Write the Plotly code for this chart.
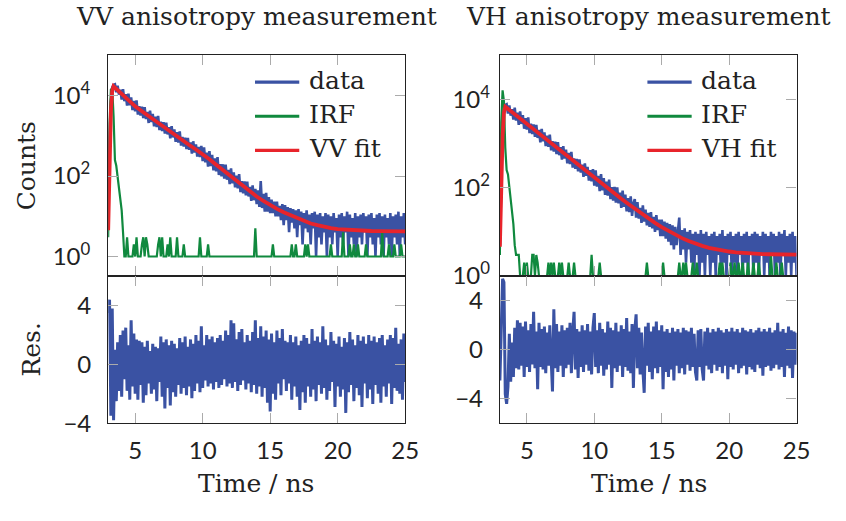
import plotly.graph_objects as go

# ---------------- data ----------------
t_start = 3.0   # first TCSPC channel, ns
t_step = 0.1    # channel width, ns

# VV decay counts, one row per ns (3.0-3.9, 4.0-4.9, ...)
vv_counts = [
    5, 900, 7000, 16000, 18500, 19000, 12000, 17500, 10500, 14000,
    7890, 14480, 7220, 10800, 5600, 11120, 5710, 8980, 4330, 7390,
    4030, 7610, 3360, 5440, 3170, 5270, 2760, 5140, 2600, 3940,
    2080, 4190, 2190, 3500, 1720, 2980, 1650, 3120, 1380, 2240,
    1310, 2170, 1140, 2120, 1080, 1630, 860, 1740, 910, 1450,
    710, 1230, 680, 1290, 570, 930, 540, 900, 470, 880,
    450, 680, 360, 730, 385, 615, 305, 530, 295, 560,
    234, 516, 219, 382, 172, 416, 176, 334, 138, 274,
    130, 295, 106, 198, 98, 196, 86, 191, 81, 142,
    63, 154, 66, 124, 52, 102, 49, 111, 40, 75,
    37, 74, 33, 73, 31, 54, 24, 59, 25, 48,
    20, 44, 17, 75, 16, 36, 13, 38, 13, 30,
    12, 26, 12, 23, 10, 23, 10, 18, 8, 20,
    6, 19, 8, 17, 4, 16, 7, 15, 5, 14,
    3, 15, 6, 13, 2, 12, 5, 14, 4, 11,
    2, 12, 5, 13, 1, 11, 3, 12, 2, 10,
    4, 12, 1, 11, 3, 10, 2, 12, 4, 9,
    1, 11, 3, 12, 2, 10, 4, 13, 1, 11,
    3, 9, 2, 12, 1, 10, 3, 11, 2, 12,
    4, 10, 1, 11, 3, 12, 2, 9, 1, 11,
    3, 12, 2, 10, 1, 11, 3, 9, 2, 12,
    1, 10, 3, 11, 2, 13, 1, 10, 3, 12,
    2,
]

vv_irf = [
    3, 2000, 14000, 15000, 3000, 250, 180, 90, 45, 25,
    14, 4, 1, 1, 3, 1, 1, 1, 1, 2,
    1, 3, 1, 1, 1, 2, 3, 1, 3, 2,
    1, 1, 1, 1, 1, 1, 1, 2, 3, 1,
    3, 1, 1, 1, 2, 1, 3, 1, 1, 1,
    1, 3, 1, 1, 1, 1, 2, 1, 1, 1,
    1, 1, 1, 1, 1, 1, 1, 1, 3, 1,
    1, 1, 1, 1, 2, 1, 1, 1, 1, 1,
    1, 1, 1, 1, 1, 1, 1, 1, 1, 1,
    1, 1, 1, 1, 1, 1, 1, 1, 1, 1,
    1, 1, 1, 1, 1, 1, 1, 1, 1, 5,
    1, 1, 1, 1, 1, 1, 1, 1, 1, 1,
    1, 1, 2, 1, 1, 1, 1, 1, 1, 1,
    1, 1, 1, 1, 1, 1, 2, 1, 1, 2,
    1, 1, 1, 1, 1, 1, 2, 1, 2, 1,
    1, 1, 1, 1, 1, 1, 1, 1, 1, 1,
    1, 1, 1, 1, 1, 2, 1, 1, 1, 1,
    1, 1, 1, 1, 4, 1, 1, 1, 1, 2,
    1, 1, 2, 1, 1, 2, 1, 1, 1, 1,
    1, 2, 1, 1, 1, 1, 1, 1, 1, 1,
    1, 1, 1, 4, 1, 1, 1, 1, 2, 1,
    1, 1, 2, 1, 1, 1, 1, 2, 1, 1,
    1,
]

vv_residual = [
    3.5, 4.4, -3.5, 3.8, -3.8, 1.0, -2.5, 1.5, -1.8, 2.0,
    -2.2, 2.3, -1.0, 2.5, -1.8, 1.3, -2.4, 3.0, -1.5, 2.1,
    -2.0, 1.7, -2.4, 1.6, -1.4, 1.5, -2.6, 1.2, -2.1, 1.6,
    -1.3, 0.9, -2.0, 1.4, -1.7, 1.2, -2.5, 1.1, -1.2, 1.9,
    -2.2, 1.5, -3.0, 1.7, -1.6, 1.3, -2.8, 1.6, -1.9, 1.4,
    -2.2, 1.1, -1.4, 1.8, -2.0, 1.5, -1.6, 1.9, -2.1, 1.2,
    -1.5, 1.7, -2.3, 1.4, -1.8, 2.0, -1.3, 1.6, -1.9, 2.6,
    -1.6, 1.3, -1.1, 2.0, -1.5, 1.7, -1.3, 1.9, -1.7, 1.5,
    -1.2, 1.8, -1.6, 2.0, -1.4, 1.6, -1.0, 2.3, -1.5, 2.0,
    -1.3, 3.0, -1.6, 2.8, -1.2, 1.7, -1.8, 2.2, -1.4, 2.4,
    -1.1, 1.5, -1.7, 2.0, -1.3, 1.6, -1.9, 2.2, -1.4, 3.0,
    -2.0, 1.8, -1.5, 2.6, -2.2, 1.9, -1.6, 2.3, -2.6, 1.7,
    -3.2, 2.1, -2.0, 1.5, -2.4, 2.3, -1.3, 1.8, -2.1, 2.4,
    -1.0, 1.6, -1.8, 1.5, -1.3, 2.0, -2.4, 1.5, -1.5, 1.9,
    -2.2, 1.3, -3.1, 1.6, -1.9, 2.0, -2.6, 1.8, -1.5, 1.4,
    -2.2, 2.4, -1.7, 1.6, -2.5, 1.9, -1.4, 1.5, -2.0, 2.6,
    -1.6, 1.7, -2.4, 1.3, -1.8, 2.2, -1.2, 1.6, -2.9, 1.4,
    -1.5, 1.9, -2.2, 1.2, -1.7, 1.8, -3.3, 1.5, -1.9, 2.2,
    -1.4, 1.7, -2.5, 1.3, -1.6, 2.0, -2.1, 1.6, -2.9, 1.9,
    -1.3, 1.4, -2.3, 2.0, -1.7, 1.6, -2.7, 1.9, -1.4, 1.5,
    -2.0, 1.8, -2.6, 2.0, -1.5, 1.3, -2.2, 1.7, -1.3, 2.0,
    -2.7, 1.8, -1.6, 2.5, -1.8, 1.4, -2.0, 1.7, -2.4, 2.1,
    -1.2,
]

vh_counts = [
    5, 200, 2500, 5800, 7500, 7800, 4800, 7300, 4300, 6000,
    3510, 6530, 3310, 5010, 2650, 5330, 2780, 4430, 2170, 3750,
    2080, 3930, 1730, 2810, 1640, 2720, 1420, 2650, 1340, 2040,
    1070, 2160, 1130, 1800, 880, 1520, 840, 1590, 700, 1140,
    660, 1100, 580, 1075, 545, 825, 435, 875, 457, 730,
    357, 617, 342, 647, 285, 462, 269, 447, 234, 436,
    220, 334, 176, 355, 186, 296, 145, 250, 139, 263,
    111, 246, 106, 185, 84, 203, 87, 165, 69, 138,
    66, 152, 55, 103, 51, 104, 46, 102, 44, 77,
    35, 86, 37, 70, 29, 58, 28, 64, 23, 44,
    55, 21, 47, 20, 35, 16, 40, 17, 32, 14,
    27, 13, 28, 12, 22, 10, 24, 11, 19, 8,
    19, 8, 17, 7, 16, 6, 15, 5, 14, 4,
    13, 5, 12, 21, 3, 11, 4, 12, 2, 10,
    4, 11, 2, 9, 1, 10, 3, 9, 1, 11,
    2, 9, 1, 10, 3, 8, 1, 9, 2, 10,
    1, 8, 3, 9, 1, 11, 2, 8, 1, 9,
    3, 10, 1, 8, 2, 9, 1, 10, 3, 8,
    1, 9, 2, 10, 1, 8, 3, 9, 1, 10,
    2, 9, 1, 8, 3, 10, 1, 9, 2, 8,
    1, 10, 3, 9, 1, 8, 2, 10, 1, 9,
    3, 11, 1, 8, 2, 9, 1, 10, 2, 8,
    1,
]

vh_irf = [
    3, 3000, 16000, 9000, 800, 250, 200, 110, 60, 30,
    15, 5, 3, 3, 3, 1, 1, 1, 2, 1,
    2, 1, 1, 1, 3, 3, 1, 3, 2, 1,
    1, 1, 1, 1, 1, 1, 2, 1, 2, 1,
    2, 1, 1, 1, 2, 1, 2, 1, 1, 1,
    1, 2, 1, 1, 1, 2, 1, 1, 1, 1,
    1, 1, 1, 1, 1, 1, 1, 1, 3, 1,
    1, 1, 1, 1, 2, 1, 1, 1, 1, 1,
    1, 1, 1, 1, 1, 1, 1, 1, 1, 1,
    1, 1, 1, 1, 1, 1, 1, 1, 1, 1,
    1, 1, 1, 1, 1, 1, 1, 1, 1, 2,
    1, 1, 1, 1, 1, 1, 1, 1, 1, 1,
    1, 2, 1, 1, 1, 1, 1, 1, 1, 1,
    1, 1, 1, 2, 1, 1, 2, 1, 2, 1,
    1, 1, 1, 2, 1, 1, 2, 1, 1, 1,
    1, 1, 1, 1, 1, 1, 1, 1, 1, 1,
    1, 1, 1, 2, 1, 2, 1, 1, 1, 1,
    1, 2, 1, 1, 2, 1, 1, 2, 1, 1,
    2, 1, 1, 1, 2, 1, 1, 1, 2, 1,
    1, 1, 2, 1, 1, 1, 1, 1, 1, 1,
    1, 3, 1, 1, 1, 2, 1, 1, 1, 2,
    1, 1, 1, 1, 1, 1, 1, 1, 1, 1,
    1,
]

vh_residual = [
    -2.5, 1.5, 5.8, 5.5, -3.6, -4.4, -3.0, 1.3, -2.6, 0.6,
    -2.2, 1.8, -1.5, 2.4, -1.6, 2.2, -1.3, 1.9, -2.2, 2.3,
    -1.4, 1.6, -1.8, 2.1, -1.2, 3.1, -1.5, 1.5, -3.2, 2.2,
    -1.4, 1.7, -1.6, 1.9, -1.9, 1.4, -1.3, 2.0, -1.7, -3.4,
    3.3, -1.5, 2.1, -1.8, 1.5, -1.3, 2.0, -2.2, 1.6, -1.5,
    1.8, -1.2, 2.2, -1.9, 1.4, 3.1, -1.6, 1.7, -2.3, 1.5,
    -1.4, 2.0, -1.8, 1.6, -1.2, 2.1, -1.7, 1.5, -2.0, 1.8,
    3.0, -1.4, 1.6, -1.9, 2.2, -1.3, 1.7, -2.1, 1.4, -1.6,
    2.3, -1.2, 1.8, -3.1, 1.6, -1.5, 2.2, -1.8, 1.5, -1.3,
    2.0, -2.2, 1.7, -1.4, 2.6, -1.7, 1.5, -1.9, 2.1, -3.1,
    1.6, 2.9, -1.5, 1.8, -2.0, 1.4, -1.6, -3.5, 1.9, -1.3,
    2.2, -1.8, 1.5, -2.4, 1.9, -1.5, 2.3, -1.9, 1.6, -1.4,
    2.0, -3.2, 1.5, -1.8, 1.7, -2.2, 1.4, -1.6, 1.8, -2.5,
    1.5, -1.3, 1.7, -1.9, 1.4, -1.5, 1.8, -2.0, 1.6, -1.2,
    1.5, -1.7, 1.8, -1.4, 1.3, -1.8, -2.5, 1.6, -1.4, 1.7,
    -1.6, -2.5, 1.5, -1.3, 1.8, -1.6, 1.4, -1.9, 1.7, -1.2,
    1.5, -1.7, 1.8, -1.4, 1.6, -1.9, 1.4, -1.3, 1.7, -2.4,
    1.5, -1.4, 1.8, -1.6, 1.5, -1.2, 1.7, -1.9, 1.4, -1.5,
    1.8, -1.3, 1.6, -2.0, 1.5, -1.4, 1.7, -1.6, 1.4, -1.8,
    1.6, -1.2, 1.8, -1.5, 1.5, -2.1, 1.7, -1.4, 1.5, -1.3,
    1.8, -1.7, 1.4, -1.5, 1.6, -1.2, 2.2, -1.6, 1.5, -1.4,
    1.7, -2.2, 1.4, -1.3, 1.9, -1.5, 1.6, -2.3, 1.5, -1.2,
    1.4,
]

fit_time = [3.0, 3.1, 3.2, 3.3, 3.4, 3.5,
            4.0, 4.5, 5.0, 5.5, 6.0, 6.5, 7.0, 7.5, 8.0, 8.5, 9.0, 9.5,
            10.0, 10.5, 11.0, 11.5, 12.0, 12.5, 13.0, 13.5, 14.0, 14.5,
            15.0, 15.5, 16.0, 16.5, 17.0, 17.5, 18.0, 18.5, 19.0, 19.5,
            20.0, 20.5, 21.0, 21.5, 22.0, 22.5, 23.0, 23.5, 24.0, 24.5, 25.0]

vv_fit = [4.5, 300, 4000, 13000, 17000, 15800,
          10960, 7670, 5370, 4050, 3055, 2325, 1765, 1340, 1016, 774, 589, 457,
          355, 260, 191, 140, 102, 75.9, 56.2, 41.7, 30.9, 24.0,
          18.6, 15.3, 12.6, 10.6, 8.9, 7.7, 6.6, 6.0, 5.4, 5.1,
          4.8, 4.65, 4.5, 4.42, 4.35, 4.3, 4.27, 4.24, 4.22, 4.21, 4.2]

vh_fit = [4.6, 100, 1500, 5000, 6800, 6460,
          4875, 3675, 2770, 2090, 1578, 1190, 897, 676, 510, 385, 290, 219,
          168, 127.5, 97, 73.8, 56.5, 43.3, 33.4, 25.9, 20.3, 16.0,
          12.8, 10.4, 8.6, 7.2, 6.18, 5.4, 4.81, 4.36, 4.03, 3.78,
          3.59, 3.44, 3.33, 3.25, 3.19, 3.14, 3.11, 3.08, 3.06, 3.05, 3.04]

time_ns = [round(t_start + t_step * i, 1) for i in range(len(vv_counts))]

x_ticks = [5, 10, 15, 20, 25]
log_ticks = [1, 100, 10000]
log_labels = ["10<sup>0</sup>", "10<sup>2</sup>", "10<sup>4</sup>"]
res_ticks = [-4, 0, 4]
res_labels = ["\u22124", "0", "4"]

titles = ["VV anisotropy measurement", "VH anisotropy measurement"]
legend_names = [["data", "IRF", "VV fit"], ["data", "IRF", "VH fit"]]

# ---------------- style ----------------
BLUE = "#3a52a3"
GREEN = "#10893e"
RED = "#e8242b"
SERIF = "DejaVu Serif"
SANS = "Lato"
W, H = 846, 521

fig = go.Figure()

panels = [
    (vv_counts, vv_irf, vv_fit, vv_residual, legend_names[0]),
    (vh_counts, vh_irf, vh_fit, vh_residual, legend_names[1]),
]
for k, (cnt, irf, fit, res, names) in enumerate(panels):
    xt = "x" if k == 0 else "x3"
    yt = "y" if k == 0 else "y3"
    xb = "x2" if k == 0 else "x4"
    yb = "y2" if k == 0 else "y4"
    fig.add_trace(go.Scatter(x=time_ns, y=cnt, mode="lines", name=names[0],
                             line=dict(color=BLUE, width=2.6), xaxis=xt, yaxis=yt))
    fig.add_trace(go.Scatter(x=time_ns, y=irf, mode="lines", name=names[1],
                             line=dict(color=GREEN, width=2.2), xaxis=xt, yaxis=yt))
    fig.add_trace(go.Scatter(x=fit_time, y=fit, mode="lines", name=names[2],
                             line=dict(color=RED, width=3.8), xaxis=xt, yaxis=yt))
    fig.add_trace(go.Scatter(x=time_ns, y=res, mode="lines", name="residual",
                             line=dict(color=BLUE, width=3.0), xaxis=xb, yaxis=yb))

xdom_l = [110 / W, 412 / W]
xdom_r = [508.3 / W, 810 / W]
ydom_t = [1 - 283.3 / H, 1 - 56.7 / H]
ydom_b = [1 - 434.3 / H, 1 - 283.3 / H]

common = dict(showline=True, linecolor="#222222", linewidth=1.2, mirror="allticks",
              ticks="inside", ticklen=10, tickwidth=1.4, tickcolor="#ababab",
              showgrid=False, zeroline=False,
              tickfont=dict(family=SANS, size=24, color="#222222"))

def xax(dom, anchor, labels):
    return dict(common, domain=dom, anchor=anchor, range=[3, 25], tickmode="array",
                tickvals=x_ticks, ticktext=[str(v) for v in x_ticks],
                showticklabels=labels, ticklabelstandoff=6)

fig.update_layout(
    xaxis=xax(xdom_l, "y", False),
    xaxis2=xax(xdom_l, "y2", True),
    xaxis3=xax(xdom_r, "y3", False),
    xaxis4=xax(xdom_r, "y4", True),
    yaxis=dict(common, domain=ydom_t, anchor="x", type="log", range=[-0.49, 5],
               tickmode="array", tickvals=log_ticks, ticktext=log_labels,
               ticklabelstandoff=12),
    yaxis2=dict(common, domain=ydom_b, anchor="x2", range=[-4.02, 6],
                tickmode="array", tickvals=res_ticks, ticktext=res_labels,
                ticklabelstandoff=11),
    yaxis3=dict(common, domain=ydom_t, anchor="x3", type="log", range=[-0.005, 5],
                tickmode="array", tickvals=log_ticks, ticktext=log_labels,
                ticklabelstandoff=4),
    yaxis4=dict(common, domain=ydom_b, anchor="x4", range=[-6, 6],
                tickmode="array", tickvals=res_ticks, ticktext=res_labels,
                ticklabelstandoff=11),
)

ann = []
def txt(x, y, s, **kw):
    d = dict(x=x / W, y=1 - y / H, xref="paper", yref="paper", text=s, showarrow=False,
             font=dict(family=SERIF, size=25, color="#222222"),
             xanchor="center", yanchor="middle")
    d.update(kw)
    ann.append(d)

txt(261, 16.5, titles[0])
txt(659, 16.5, titles[1])
txt(260.5, 496, "Time / ns")
txt(660, 496, "Time / ns")
txt(26.5, 170.5, "Counts", textangle=-90)
txt(32.5, 358.5, "Res.", textangle=-90)

shapes = []
leg_y = [84.3, 119.2, 154.2]
leg_cols = [BLUE, GREEN, RED]
for x0, names in [(259.3, legend_names[0]), (658.3, legend_names[1])]:
    for yy, col, nm in zip(leg_y, leg_cols, names):
        shapes.append(dict(type="line", xref="paper", yref="paper",
                           x0=x0 / W, x1=(x0 + 45) / W, y0=1 - yy / H, y1=1 - yy / H,
                           line=dict(color=col, width=3.2)))
        txt(x0 + 52.4, yy - 1.5, nm, xanchor="left")

fig.update_layout(annotations=ann, shapes=shapes, showlegend=False,
                  width=W, height=H, margin=dict(l=0, r=0, t=0, b=0),
                  paper_bgcolor="white", plot_bgcolor="white")

pin_page = (
    "var gd=document.getElementById('{plot_id}');"
    "document.documentElement.style.margin='0';document.documentElement.style.padding='0';"
    "document.body.style.margin='0';document.body.style.padding='0';"
    "document.documentElement.style.overflow='hidden';document.body.style.overflow='hidden';"
    "gd.style.position='fixed';gd.style.left='0px';gd.style.top='0px';"
)
fig.write_html("out.html", post_script=pin_page)
